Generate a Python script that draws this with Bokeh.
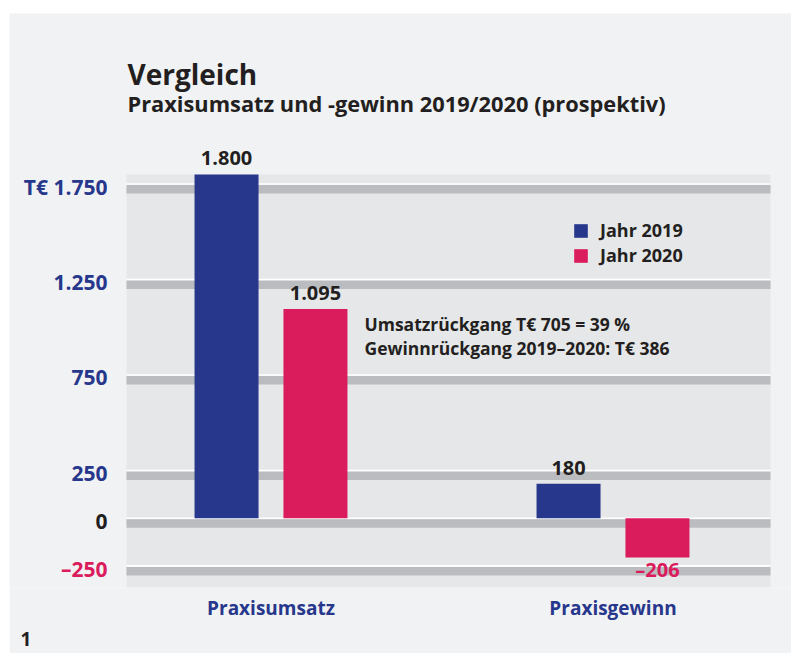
from bokeh.plotting import figure
from bokeh.models import (ColumnDataSource, Range1d, FixedTicker, Label, LabelSet,
                          Legend, LegendItem, BoxAnnotation, Title, Spacer)
from bokeh.layouts import column, row
from bokeh.core.properties import value
from bokeh.transform import dodge
from bokeh.embed import file_html
from bokeh.resources import INLINE

# ---- data ----
categories = ["Praxisumsatz", "Praxisgewinn"]
years = ["Jahr 2019", "Jahr 2020"]
values_2019 = [1800, 180]
values_2020 = [1095, -206]
y_ticks = [1750, 1250, 750, 250, 0, -250]
title = "Vergleich"
subtitle = "Praxisumsatz und -gewinn 2019/2020 (prospektiv)"
note_lines = ["Umsatzrückgang T€ 705 = 39 %", "Gewinnrückgang 2019–2020: T€ 386"]
footnote = "1"

# ---- style ----
BLUE = "#27378c"
RED = "#da1b5c"
DARK = "#231f20"
CARD = "#f1f2f4"
PLOTBG = "#e6e7e9"
BAND = "#bbbcc0"
FONT = "Open Sans"


def de(v):
    s = f"{abs(v):,}".replace(",", ".")
    return ("–" if v < 0 else "") + s


# geometry (px per unit) and ranges
PXX = 342.0          # px per category step
PXY = 0.19094        # px per T€
W, H = 782, 640
BOTTOM = 66
FRAME_W = W
FRAME_H = H - BOTTOM
X0 = -261.5 / PXX
X1 = X0 + FRAME_W / PXX
XG0 = -144.5 / PXX            # left edge of grey plot panel
XG1 = 1 + 157.5 / PXX         # right edge of grey plot panel
Y0 = -363
Y1 = Y0 + FRAME_H / PXY
OFF = 0.13
BAR_W = 64 / PXX

p = figure(width=W, height=H, output_backend="svg", toolbar_location=None,
           x_range=Range1d(X0, X1), y_range=Range1d(Y0, Y1),
           min_border_left=0, min_border_right=0, min_border_top=0, min_border_bottom=BOTTOM)
p.title.visible = False
p.background_fill_color = CARD
p.border_fill_color = CARD
p.outline_line_color = None
p.grid.visible = False
p.yaxis.visible = False

# grey plot panel
p.add_layout(BoxAnnotation(left=XG0, right=XG1, top=max(values_2019 + values_2020),
                           fill_color=PLOTBG, fill_alpha=1, line_color=None, level="underlay"))

# gridlines: white hairline at value, grey band just below
band_shift = 5.3 / PXY
p.segment(x0=XG0, x1=XG1, y0=[t - band_shift for t in y_ticks], y1=[t - band_shift for t in y_ticks],
          line_color=BAND, line_width=8.5)
p.segment(x0=XG0, x1=XG1, y0=y_ticks, y1=y_ticks, line_color="white", line_width=1.6)

# bars
src = ColumnDataSource(dict(idx=list(range(len(categories))), y2019=values_2019, y2020=values_2020))
r1 = p.vbar(x=dodge("idx", -OFF), top="y2019", bottom=0, width=BAR_W, source=src,
            fill_color=BLUE, line_color=None)
r2 = p.vbar(x=dodge("idx", OFF), top="y2020", bottom=0, width=BAR_W, source=src,
            fill_color=RED, line_color=None)

# value labels
lab = dict(x=[], y=[], text=[], color=[], base=[], off=[])
for i in range(len(categories)):
    for off, vals in ((-OFF, values_2019), (OFF, values_2020)):
        v = vals[i]
        lab["x"].append(i + off)
        lab["y"].append(v)
        lab["text"].append(de(v))
        lab["color"].append(RED if v < 0 else DARK)
        lab["base"].append("top" if v < 0 else "bottom")
        lab["off"].append(2 if v < 0 else 9)
p.add_layout(LabelSet(x="x", y="y", text="text", source=ColumnDataSource(lab),
                      text_align="center", text_baseline="base", y_offset="off",
                      text_color="color", text_font=value(FONT), text_font_style="bold",
                      text_font_size="20px"))

# y tick labels
tick_src = ColumnDataSource(dict(
    x=[XG0] * len(y_ticks), y=y_ticks,
    text=[("T€ " if t == max(y_ticks) else "") + de(t) for t in y_ticks],
    color=[BLUE if t > 0 else (RED if t < 0 else DARK) for t in y_ticks]))
p.add_layout(LabelSet(x="x", y="y", text="text", source=tick_src, x_offset=-19, y_offset=-3,
                      text_align="right", text_baseline="middle", text_color="color",
                      text_font=value(FONT), text_font_style="bold", text_font_size="21px"))

# x axis (categories)
p.xaxis.ticker = FixedTicker(ticks=list(range(len(categories))))
p.xaxis.major_label_overrides = {i: c for i, c in enumerate(categories)}
p.xaxis.major_label_text_color = BLUE
p.xaxis.major_label_text_font = FONT
p.xaxis.major_label_text_font_style = "bold"
p.xaxis.major_label_text_font_size = "19px"
p.xaxis.major_label_standoff = 7
p.xaxis.axis_line_color = None
p.xaxis.major_tick_line_color = None
p.xaxis.minor_tick_line_color = None
p.xaxis.major_tick_in = 0
p.xaxis.major_tick_out = 0

# legend
legend = Legend(items=[LegendItem(label=years[0], renderers=[r1]),
                       LegendItem(label=years[1], renderers=[r2])],
                location=(563, 320), orientation="vertical",
                glyph_width=17, glyph_height=17, label_height=17, label_standoff=11,
                spacing=1, padding=0, margin=0, border_line_color=None,
                background_fill_alpha=0, label_text_font=FONT,
                label_text_font_style="bold", label_text_font_size="18px",
                label_text_color=DARK)
p.add_layout(legend)

# titles and note (positions in px above frame bottom)
p.add_layout(Label(x=118, y=514, x_units="screen", y_units="screen", text=title,
                   text_baseline="alphabetic",
                   text_font=FONT, text_font_style="bold", text_font_size="28px",
                   text_color=DARK))
p.add_layout(Label(x=118, y=484, x_units="screen", y_units="screen", text=subtitle,
                   text_baseline="alphabetic",
                   text_font=FONT, text_font_style="bold", text_font_size="21.8px",
                   text_color=DARK))
for k, line in enumerate(note_lines):
    p.add_layout(Label(x=355, y=264 - 24.5 * k, x_units="screen", y_units="screen", text=line,
                       text_baseline="alphabetic",
                       text_font=FONT, text_font_style="bold", text_font_size="17.5px",
                       text_color=DARK))

# footnote number below the axis
p.add_layout(Title(text=footnote, align="left", offset=11, standoff=12,
                   text_font=FONT, text_font_style="bold", text_font_size="19px",
                   text_color=DARK), "below")

layout = column(Spacer(height=13), row(Spacer(width=9), p))
open("out.html", "w").write(file_html(layout, INLINE))
